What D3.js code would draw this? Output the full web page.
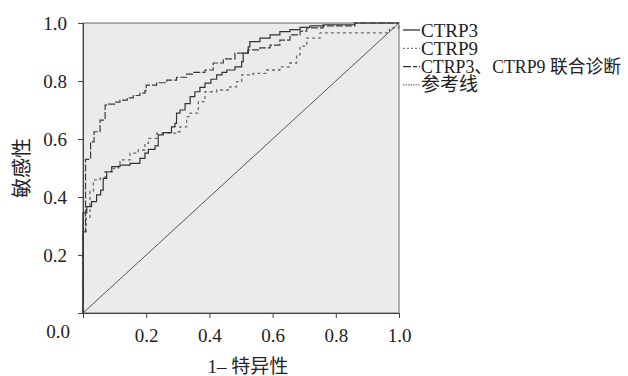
<!DOCTYPE html>
<html>
<head>
<meta charset="utf-8">
<script src="https://cdn.jsdelivr.net/npm/d3@7"></script>
<style>
  body { margin: 0; background: #fff; }
  svg text { font-family: "Liberation Serif", "Noto Sans CJK SC", serif; fill: #222; }
</style>
</head>
<body>
<div class="roc"></div>
<script>
// tick values
const tickValues = [0.2, 0.4, 0.6, 0.8, 1.0];

// legend labels
const seriesNames = ["CTRP3", "CTRP9", "CTRP3、CTRP9 联合诊断", "参考线"];

// ROC step points (1-specificity, sensitivity)
const ctrp3Fpr = [0, 0, 0.012, 0.027, 0.043, 0.056, 0.064, 0.075, 0.091, 0.117, 0.149, 0.18, 0.196, 0.207, 0.228, 0.238, 0.254, 0.28, 0.291, 0.296, 0.307, 0.323, 0.339, 0.354, 0.37, 0.386, 0.405, 0.423, 0.44, 0.455, 0.481, 0.502, 0.507, 0.523, 0.528, 0.56, 0.592, 0.623, 0.655, 0.687, 0.718, 0.76, 0.86, 1.0];
const ctrp3Tpr = [0, 0.345, 0.367, 0.384, 0.407, 0.424, 0.464, 0.487, 0.505, 0.51, 0.516, 0.533, 0.551, 0.564, 0.576, 0.614, 0.622, 0.642, 0.654, 0.689, 0.7, 0.722, 0.746, 0.763, 0.778, 0.793, 0.806, 0.821, 0.83, 0.838, 0.849, 0.867, 0.896, 0.918, 0.936, 0.948, 0.959, 0.97, 0.977, 0.985, 0.99, 0.994, 1.0, 1.0];

const ctrp9Fpr = [0, 0, 0.01, 0.022, 0.033, 0.054, 0.07, 0.096, 0.112, 0.117, 0.149, 0.175, 0.196, 0.207, 0.233, 0.296, 0.307, 0.328, 0.339, 0.365, 0.386, 0.423, 0.465, 0.486, 0.502, 0.538, 0.581, 0.623, 0.655, 0.676, 0.687, 0.708, 0.75, 0.94, 0.97, 1.0];
const ctrp9Tpr = [0, 0.276, 0.33, 0.42, 0.459, 0.465, 0.487, 0.499, 0.516, 0.528, 0.551, 0.562, 0.585, 0.602, 0.62, 0.625, 0.642, 0.677, 0.689, 0.729, 0.763, 0.769, 0.78, 0.798, 0.821, 0.826, 0.838, 0.849, 0.862, 0.89, 0.92, 0.948, 0.966, 0.966, 0.983, 1.0];

const comboFpr = [0, 0, 0.008, 0.024, 0.035, 0.054, 0.07, 0.08, 0.1, 0.117, 0.14, 0.159, 0.18, 0.196, 0.2, 0.233, 0.265, 0.296, 0.328, 0.349, 0.386, 0.412, 0.444, 0.481, 0.522, 0.56, 0.592, 0.623, 0.655, 0.687, 0.708, 0.76, 0.86, 1.0];
const comboTpr = [0, 0.28, 0.53, 0.59, 0.625, 0.665, 0.717, 0.72, 0.727, 0.734, 0.742, 0.75, 0.758, 0.767, 0.786, 0.794, 0.803, 0.813, 0.824, 0.83, 0.838, 0.862, 0.876, 0.896, 0.907, 0.914, 0.924, 0.941, 0.959, 0.972, 0.983, 0.99, 1.0, 1.0];

const refFpr = [0, 1];
const refTpr = [0, 1];

const width = 628, height = 376;
const plotLeft = 83, plotRight = 399, plotTop = 23, plotBottom = 313;

const svg = d3.select(".roc").append("svg")
  .attr("width", width)
  .attr("height", height);

const x = d3.scaleLinear().domain([0, 1]).range([plotLeft, plotRight]);
const y = d3.scaleLinear().domain([0, 1]).range([plotBottom, plotTop]);

// plot background
svg.append("rect")
  .attr("x", plotLeft).attr("y", plotTop)
  .attr("width", plotRight - plotLeft).attr("height", plotBottom - plotTop)
  .attr("fill", "#ebebeb")
  .attr("stroke", "#666")
  .attr("stroke-width", 1);

// axes
const yAxis = svg.append("g")
  .attr("transform", `translate(${plotLeft},0)`)
  .call(d3.axisLeft(y).tickValues(tickValues).tickSize(5).tickPadding(11).tickFormat(d3.format(".1f")));
const xAxis = svg.append("g")
  .attr("transform", `translate(0,${plotBottom})`)
  .call(d3.axisBottom(x).tickValues(tickValues).tickSize(5).tickPadding(11).tickFormat(d3.format(".1f")));

[xAxis, yAxis].forEach(function(g) {
  g.attr("font-family", null).attr("font-size", 19);
  g.select(".domain").attr("stroke", "#444");
  g.selectAll(".tick line").attr("stroke", "#444");
  g.selectAll("text").attr("fill", "#222");
});

svg.append("text")
  .attr("x", 58).attr("y", 338)
  .attr("text-anchor", "middle")
  .attr("font-size", 19)
  .text(d3.format(".1f")(0));

// axis titles
svg.append("text")
  .attr("x", 248).attr("y", 373)
  .attr("text-anchor", "middle")
  .attr("font-size", 19)
  .text("1– 特异性");
svg.append("text")
  .attr("transform", "translate(29,168) rotate(-90)")
  .attr("text-anchor", "middle")
  .attr("font-size", 20)
  .text("敏感性");

// curves
const line = d3.line()
  .x(function(d) { return x(d[0]); })
  .y(function(d) { return y(d[1]); });

const series = [
  { fpr: refFpr, tpr: refTpr, stroke: "#555", dash: null, w: 1, curve: d3.curveLinear },
  { fpr: ctrp9Fpr, tpr: ctrp9Tpr, stroke: "#6a6a6a", dash: "3,3", w: 1.3, curve: d3.curveStepAfter },
  { fpr: ctrp3Fpr, tpr: ctrp3Tpr, stroke: "#333", dash: null, w: 1.2, curve: d3.curveStepAfter },
  { fpr: comboFpr, tpr: comboTpr, stroke: "#3a3a3a", dash: "7,2", w: 1.2, curve: d3.curveStepAfter }
];

series.forEach(function(s) {
  const pts = s.fpr.map(function(f, i) { return [f, s.tpr[i]]; });
  svg.append("path")
    .attr("d", line.curve(s.curve)(pts))
    .attr("fill", "none")
    .attr("stroke", s.stroke)
    .attr("stroke-width", s.w)
    .attr("stroke-dasharray", s.dash);
});

// legend
const legendStyles = [
  { stroke: "#333", dash: null },
  { stroke: "#777", dash: "2,2" },
  { stroke: "#333", dash: "8,2,4,2" },
  { stroke: "#777", dash: "1.5,1" }
];
const legend = svg.append("g");
legend.selectAll("line")
  .data(seriesNames)
  .enter()
  .append("line")
  .attr("x1", 403).attr("x2", 420)
  .attr("y1", function(d, i) { return 30 + i * 18.3; })
  .attr("y2", function(d, i) { return 30 + i * 18.3; })
  .attr("stroke", function(d, i) { return legendStyles[i].stroke; })
  .attr("stroke-width", 1.3)
  .attr("stroke-dasharray", function(d, i) { return legendStyles[i].dash; });
legend.selectAll("text")
  .data(seriesNames)
  .enter()
  .append("text")
  .attr("x", 421)
  .attr("y", function(d, i) { return 36.5 + i * 18.3; })
  .attr("font-size", function(d) { return d.length > 10 ? 17.8 : 19; })
  .text(function(d) { return d; });
</script>
</body>
</html>
